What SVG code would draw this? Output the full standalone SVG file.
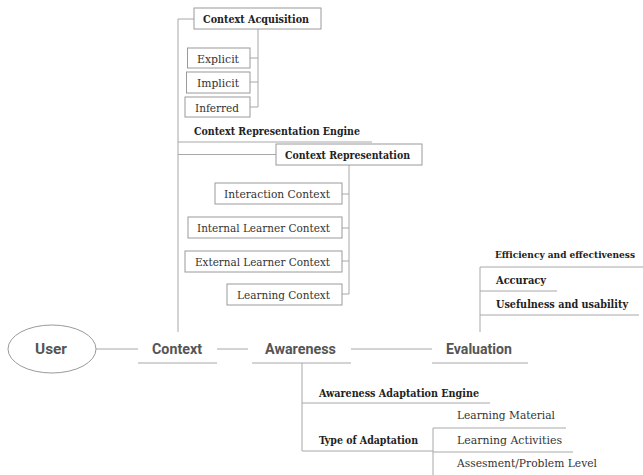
<svg xmlns="http://www.w3.org/2000/svg" width="643" height="475" viewBox="0 0 643 475">
<style>
.ln{stroke:#a8a8a8;stroke-width:1;fill:none}
.bx{fill:#fff;stroke:#9a9a9a;stroke-width:1}
.sb{font-family:"DejaVu Serif Condensed","DejaVu Serif",serif;font-size:11.5px;font-weight:bold;fill:#222}
.sr{font-family:"DejaVu Serif Condensed","DejaVu Serif",serif;font-size:11.5px;fill:#333}
.mn{font-family:Roboto,"Liberation Sans",sans-serif;font-size:14px;font-weight:bold;fill:#555}
</style>
<rect width="643" height="475" fill="#fff"/>
<g id="connectors">
<path class="ln" d="M178,332 V19 H194"/>
<path class="ln" d="M250,58 H258 M250,82 H258 M250,107 H258 M258,29 V107"/>
<path class="ln" d="M178,142 H372 M178,154.5 H276"/>
<path class="ln" d="M349,165 V294 M342,194 H349 M342,228 H349 M342,261 H349 M342,294 H349"/>
<path class="ln" d="M96,349 H138 M217,349 H248 M351,349 H432"/>
<path class="ln" d="M138,363 H217 M252,363 H351 M432,363 H528"/>
<path class="ln" d="M480,332 V267 H643 M480,291 H557 M480,315 H639"/>
<path class="ln" d="M302,363 V451 H433 M302,403 H490"/>
<path class="ln" d="M433,475 V428 H566 M433,452 H573"/>
</g>
<g id="user"><ellipse cx="52" cy="349" rx="44" ry="24" fill="#fff" stroke="#9a9a9a"/><text class="mn" x="51" y="354" text-anchor="middle" textLength="32" lengthAdjust="spacingAndGlyphs">User</text></g>
<g id="context"><text class="mn" x="152" y="354" textLength="50" lengthAdjust="spacingAndGlyphs">Context</text></g>
<g id="awareness"><text class="mn" x="265" y="354" textLength="71" lengthAdjust="spacingAndGlyphs">Awareness</text></g>
<g id="evaluation"><text class="mn" x="446" y="354" textLength="66" lengthAdjust="spacingAndGlyphs">Evaluation</text></g>
<g id="context-acquisition"><rect class="bx" x="194" y="8" width="127" height="21"/><text class="sb" x="203" y="23" textLength="106" lengthAdjust="spacingAndGlyphs">Context Acquisition</text></g>
<g id="explicit"><rect class="bx" x="187.5" y="48" width="62.5" height="20"/><text class="sr" x="197" y="62.5" textLength="42" lengthAdjust="spacingAndGlyphs">Explicit</text></g>
<g id="implicit"><rect class="bx" x="186.5" y="72" width="63.5" height="21"/><text class="sr" x="197" y="87" textLength="42" lengthAdjust="spacingAndGlyphs">Implicit</text></g>
<g id="inferred"><rect class="bx" x="185" y="97" width="65" height="20"/><text class="sr" x="195" y="111.5" textLength="44" lengthAdjust="spacingAndGlyphs">Inferred</text></g>
<g id="context-representation-engine"><text class="sb" x="194" y="135" textLength="166" lengthAdjust="spacingAndGlyphs">Context Representation Engine</text></g>
<g id="context-representation"><rect class="bx" x="276" y="144" width="146" height="21"/><text class="sb" x="285" y="159" textLength="125" lengthAdjust="spacingAndGlyphs">Context Representation</text></g>
<g id="interaction-context"><rect class="bx" x="215" y="183" width="127" height="21"/><text class="sr" x="224" y="198" textLength="106" lengthAdjust="spacingAndGlyphs">Interaction Context</text></g>
<g id="internal-learner-context"><rect class="bx" x="188" y="217" width="154" height="21"/><text class="sr" x="197" y="232" textLength="133" lengthAdjust="spacingAndGlyphs">Internal Learner Context</text></g>
<g id="external-learner-context"><rect class="bx" x="185" y="251" width="157" height="21"/><text class="sr" x="195" y="266" textLength="135" lengthAdjust="spacingAndGlyphs">External Learner Context</text></g>
<g id="learning-context"><rect class="bx" x="227" y="284" width="115" height="21"/><text class="sr" x="237" y="299" textLength="93" lengthAdjust="spacingAndGlyphs">Learning Context</text></g>
<g id="efficiency"><text class="sb" x="495" y="258" style="font-size:10px" textLength="140" lengthAdjust="spacingAndGlyphs">Efficiency and effectiveness</text></g>
<g id="accuracy"><text class="sb" x="496" y="284" textLength="50" lengthAdjust="spacingAndGlyphs">Accuracy</text></g>
<g id="usefulness"><text class="sb" x="496" y="307.5" textLength="132" lengthAdjust="spacingAndGlyphs">Usefulness and usability</text></g>
<g id="awareness-adaptation-engine"><text class="sb" x="319" y="397" textLength="160" lengthAdjust="spacingAndGlyphs">Awareness Adaptation Engine</text></g>
<g id="type-of-adaptation"><text class="sb" x="319" y="444" textLength="99" lengthAdjust="spacingAndGlyphs">Type of Adaptation</text></g>
<g id="learning-material"><text class="sr" x="457" y="419" textLength="98" lengthAdjust="spacingAndGlyphs">Learning Material</text></g>
<g id="learning-activities"><text class="sr" x="457" y="444" textLength="105" lengthAdjust="spacingAndGlyphs">Learning Activities</text></g>
<g id="assesment"><text class="sr" x="457" y="467" textLength="140" lengthAdjust="spacingAndGlyphs">Assesment/Problem Level</text></g>
</svg>
